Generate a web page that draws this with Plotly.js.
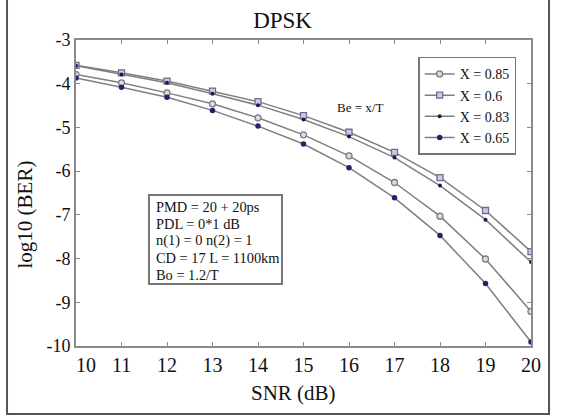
<!DOCTYPE html>
<html><head><meta charset="utf-8">
<script src="https://cdn.plot.ly/plotly-3.0.1.min.js"></script>
<style>html,body{margin:0;padding:0;background:#fff}#plot{width:564px;height:416px}</style>
</head><body><div id="plot"></div>
<script>
var snr = [10, 11, 12, 13, 14, 15, 16, 17, 18, 19, 20];
var ber_x085 = [-3.79, -3.98, -4.21, -4.46, -4.78, -5.17, -5.65, -6.26, -7.03, -8.01, -9.21];
var ber_x060 = [-3.58, -3.75, -3.94, -4.17, -4.41, -4.73, -5.11, -5.57, -6.15, -6.90, -7.84];
var ber_x083 = [-3.59, -3.79, -3.98, -4.23, -4.49, -4.82, -5.21, -5.69, -6.33, -7.11, -8.08];
var ber_x065 = [-3.87, -4.08, -4.31, -4.61, -4.97, -5.38, -5.92, -6.61, -7.47, -8.57, -9.91];
var seriesNames = ['X = 0.85', 'X = 0.6', 'X = 0.83', 'X = 0.65'];
var xTicks = [10, 11, 12, 13, 14, 15, 16, 17, 18, 19, 20];
var xTickText = ['\u200310', '11', '12', '13', '14', '15', '16', '17', '18', '19', '20'];
var yTicks = [-3, -4, -5, -6, -7, -8, -9, -10];
var yTickText = ['-3', '-4', '-5', '-6', '-7', '-8', '-9', '-10'];
var infoLines = ['PMD = 20 + 20ps', 'PDL = 0*1 dB', 'n(1) = 0 n(2) = 1', 'CD = 17 L = 1100km', 'Bo = 1.2/T'];

var serif = 'Liberation Serif, Times New Roman, serif';
var lineCol = '#7f7f7f';
var traces = [
  {x: snr, y: ber_x085, name: seriesNames[0], mode: 'lines+markers',
   line: {color: lineCol, width: 1.5},
   marker: {symbol: 'circle', size: 6, color: '#dcdce4', line: {color: '#7a7a86', width: 1.3}}},
  {x: snr, y: ber_x060, name: seriesNames[1], mode: 'lines+markers',
   line: {color: lineCol, width: 1.5},
   marker: {symbol: 'square', size: 6, color: '#c8cce8', line: {color: '#6e6e8a', width: 1.3}}},
  {x: snr, y: ber_x083, name: seriesNames[2], mode: 'lines+markers',
   line: {color: lineCol, width: 1.5},
   marker: {symbol: 'circle', size: 4, color: '#1a1a50', line: {width: 0}}},
  {x: snr, y: ber_x065, name: seriesNames[3], mode: 'lines+markers',
   line: {color: lineCol, width: 1.5},
   marker: {symbol: 'circle', size: 5.5, color: '#22226e', line: {width: 0}}}
];

var infoTop = 0.4542, infoStep = 0.0552;
var annotations = [
  {xref: 'paper', yref: 'paper', x: 0.478, y: -0.155, xanchor: 'center', yanchor: 'middle',
   text: 'SNR (dB)', showarrow: false, font: {family: serif, size: 21, color: '#111'}},
  {xref: 'paper', yref: 'paper', x: -0.112, y: 0.43, xanchor: 'center', yanchor: 'middle',
   text: 'log10 (BER)', textangle: -90, showarrow: false, font: {family: serif, size: 21, color: '#111'}},
  {xref: 'x', yref: 'y', x: 16.25, y: -4.54, xanchor: 'center', yanchor: 'middle',
   text: 'Be = x/T', showarrow: false, font: {family: serif, size: 13, color: '#111'}}
];
infoLines.forEach(function (t, i) {
  annotations.push({xref: 'paper', yref: 'paper', x: 0.1714, y: infoTop - i * infoStep,
    xanchor: 'left', yanchor: 'middle', align: 'left', text: t, showarrow: false,
    font: {family: serif, size: 14.4, color: '#111'}});
});

var layout = {
  width: 564, height: 416,
  margin: {l: 76, r: 33, t: 40, b: 70},
  paper_bgcolor: '#fff', plot_bgcolor: '#fff',
  font: {family: serif, color: '#111', size: 16},
  showlegend: true,
  title: {text: 'DPSK', font: {family: serif, size: 23, color: '#111'},
          xref: 'container', x: 0.501, xanchor: 'center', yref: 'container', y: 0.952, yanchor: 'middle'},
  xaxis: {range: [10, 20], tickvals: xTicks, ticktext: xTickText,
          showgrid: false, zeroline: false, showline: true, linecolor: '#8a8a8a', linewidth: 2,
          mirror: 'ticks', ticks: 'inside', ticklen: 4, tickcolor: '#8a8a8a', tickwidth: 1,
          tickfont: {family: serif, size: 20, color: '#111'}},
  yaxis: {range: [-10, -3], tickvals: yTicks, ticktext: yTickText,
          showgrid: false, zeroline: false, showline: true, linecolor: '#8a8a8a', linewidth: 2,
          mirror: 'ticks', ticks: 'inside', ticklen: 4, tickcolor: '#8a8a8a', tickwidth: 1,
          tickfont: {family: serif, size: 18, color: '#111'}},
  legend: {x: 0.752, y: 0.945, xanchor: 'left', yanchor: 'top',
           bgcolor: '#fff', bordercolor: '#777', borderwidth: 1.5,
           font: {family: serif, size: 14, color: '#111'}, tracegroupgap: 0, itemwidth: 30},
  annotations: annotations,
  shapes: [
    {type: 'rect', xref: 'paper', yref: 'paper', x0: -0.1516, x1: 1.0396, y0: -0.2222, y1: 1.1438,
     line: {color: '#555', width: 2}, fillcolor: 'rgba(0,0,0,0)', layer: 'below'},
    {type: 'rect', xref: 'paper', yref: 'paper', x0: 0.1604, x1: 0.4527, y0: 0.2026, y1: 0.4935,
     line: {color: '#777', width: 2}, fillcolor: '#fff', layer: 'below'}
  ]
};
Plotly.newPlot('plot', traces, layout, {displayModeBar: false, staticPlot: true});
</script></body></html>
